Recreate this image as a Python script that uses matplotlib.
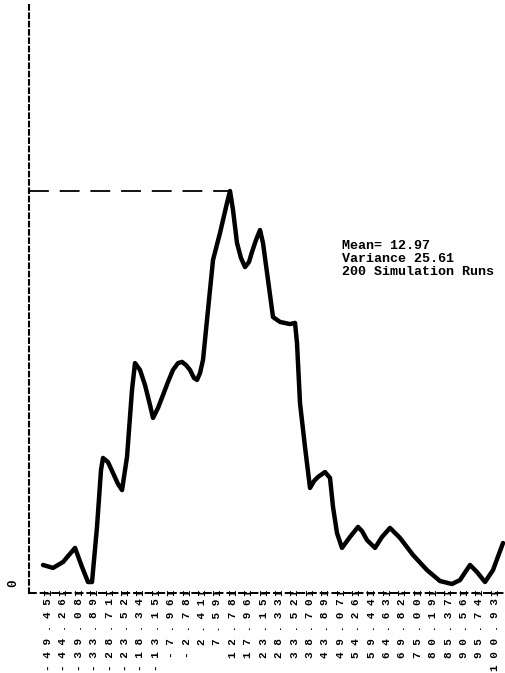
import matplotlib
matplotlib.use("Agg")
import matplotlib.pyplot as plt

# bin labels printed along the bottom
bin_labels = ["-49.45", "-44.26", "-39.08", "-33.89", "-28.71", "-23.52",
              "-18.34", "-13.15", "-7.96", "-2.78", "2.41", "7.59",
              "12.78", "17.96", "23.15", "28.33", "33.52", "38.70",
              "43.89", "49.07", "54.26", "59.44", "64.63", "69.82",
              "75.00", "80.19", "85.37", "90.56", "95.74", "100.93"]
bin_values = [float(s) for s in bin_labels]

# frequency curve
curve_x = [-51.13, -47.77, -44.40, -40.36, -38.01, -35.99, -34.64, -32.96,
           -31.61, -30.94, -29.26, -27.57, -25.89, -24.54, -22.86, -21.18,
           -20.17, -18.49, -16.80, -15.12, -14.11, -12.43, -10.74, -9.06,
           -7.38, -5.69, -4.35, -3.00, -1.66, -0.31, 0.70, 1.71,
           2.72, 4.40, 6.09, 8.44, 10.80, 11.81, 12.82, 14.16,
           15.51, 16.86, 18.20, 19.21, 20.56, 21.91, 22.91, 24.60,
           26.28, 28.64, 32.00, 33.69, 34.36, 35.37, 37.05, 38.74,
           40.08, 41.43, 43.78, 45.47, 46.48, 47.82, 49.50, 52.20,
           54.89, 56.24, 57.92, 60.62, 62.97, 65.66, 69.03, 73.40,
           78.11, 82.49, 86.53, 89.22, 92.59, 94.94, 97.64, 100.33, 103.70]
curve_y = [0.92, 0.77, 1.07, 1.79, 0.82, 0.05, 0.05, 2.86,
           5.77, 6.38, 6.17, 5.61, 5.05, 4.74, 6.43, 9.85,
           11.22, 10.87, 10.10, 9.08, 8.42, 8.93, 9.59, 10.26,
           10.87, 11.22, 11.28, 11.12, 10.87, 10.46, 10.36, 10.71,
           11.38, 13.93, 16.48, 17.86, 19.39, 20.00, 19.03, 17.35,
           16.58, 16.12, 16.38, 16.89, 17.50, 18.01, 17.35, 15.46,
           13.57, 13.32, 13.21, 13.27, 12.24, 9.18, 6.94, 4.85,
           5.20, 5.41, 5.66, 5.36, 3.88, 2.55, 1.79, 2.35,
           2.86, 2.65, 2.19, 1.79, 2.35, 2.81, 2.30, 1.43,
           0.66, 0.10, -0.05, 0.15, 0.92, 0.56, 0.05, 0.66, 2.04]

mean = 12.97
variance = 25.61
runs = 200

mono = "Liberation Mono"

W, H = 505, 673
fig = plt.figure(figsize=(W / 100, H / 100), dpi=100)
ax = fig.add_axes([29 / W, 1 - 593 / H, 1 - 29 / W, (593 - 5) / H])

ax.plot(curve_x, curve_y, color="black", lw=3.2, solid_joinstyle="round",
        solid_capstyle="round")

# dashed line from the axis across to the peak
i_peak = curve_y.index(max(curve_y))
ax.plot([-55.85, curve_x[i_peak]], [curve_y[i_peak]] * 2, color="black",
        lw=1.3, dashes=(11, 6))

ax.set_xlim(-55.85, 104.37)
ax.set_ylim(-0.51, 29.49)

for s in ["top", "right"]:
    ax.spines[s].set_visible(False)
ax.spines["left"].set_linestyle((0, (2.2, 1.8)))
ax.spines["left"].set_linewidth(1.5)
ax.spines["bottom"].set_linestyle((0, (3.5, 2.5)))
ax.spines["bottom"].set_linewidth(1.4)

ax.set_xticks(bin_values)
ax.set_xticklabels([" ".join(s) for s in bin_labels], rotation=90,
                   family=mono, weight="bold", fontsize=7.9)
ax.tick_params(axis="x", length=0, pad=4)
ax.set_yticks([])

# printed "I" marks at each bin
for v in bin_values:
    ax.text(v, 0, "I", transform=ax.get_xaxis_transform(), rotation=90,
            ha="center", va="center", family=mono, weight="bold",
            fontsize=8, clip_on=False)

ax.annotate("0", xy=(0, 0), xycoords=("axes fraction", "data"),
            xytext=(-16, 0), textcoords="offset pixels", rotation=90,
            ha="center", va="center", family=mono, weight="bold", fontsize=9)

stats = ["Mean= %.2f" % mean, "Variance %.2f" % variance,
         "%d Simulation Runs" % runs]
for k, line in enumerate(stats):
    fig.text(342 / W, 1 - (246 + 13 * k) / H, line, family=mono,
             weight="bold", fontsize=9.6, va="center", ha="left")

fig.savefig("out.png", dpi=100)
